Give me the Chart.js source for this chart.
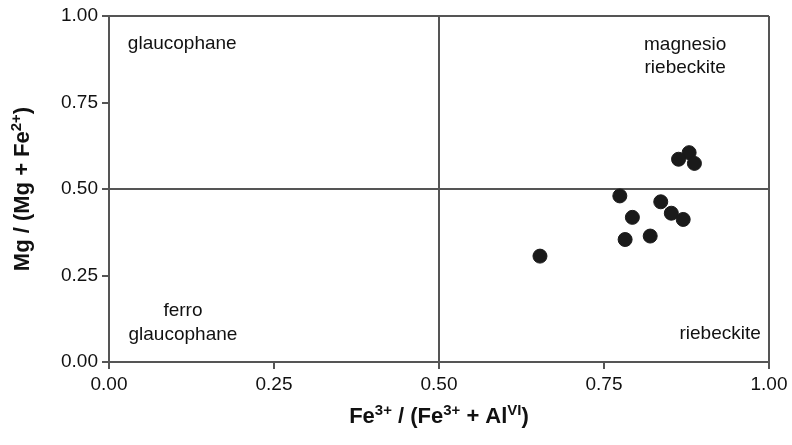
<!DOCTYPE html>
<html>
<head>
<meta charset="utf-8">
<script src="https://cdn.jsdelivr.net/npm/chart.js@4/dist/chart.umd.min.js"></script>
<style>
  html, body { margin: 0; padding: 0; background: #fff; }
  #wrap { width: 792px; height: 445px; }
</style>
</head>
<body>
<div id="wrap"><canvas id="amph-chart" width="792" height="445"></canvas></div>
<script>
// Data
var feRatio = [0.879, 0.863, 0.887, 0.774, 0.836, 0.793, 0.852, 0.870, 0.782, 0.820, 0.653];
var mgRatio = [0.605, 0.586, 0.574, 0.480, 0.463, 0.418, 0.430, 0.412, 0.354, 0.364, 0.306];
var tickValues = [0, 0.25, 0.5, 0.75, 1];

// Field names, placed in data units
var fieldNames = ["glaucophane", "magnesio", "riebeckite", "ferro", "glaucophane", "riebeckite"];
var fieldX = [0.111, 0.873, 0.873, 0.112, 0.112, 0.926];
var fieldY = [0.919, 0.916, 0.850, 0.148, 0.080, 0.081];

var FONT = "'Liberation Sans', Arial, sans-serif";
var LINE = "#555";

var points = feRatio.map(function (x, i) {
  return { x: x, y: mgRatio[i] };
});

// draws text with superscript parts, centred on (cx, cy)
function richText(ctx, parts, cx, cy, size, rotate) {
  ctx.save();
  ctx.translate(cx, cy);
  if (rotate) ctx.rotate(-Math.PI / 2);
  ctx.textBaseline = "alphabetic";
  ctx.textAlign = "left";
  var total = 0;
  parts.forEach(function (p) {
    ctx.font = "bold " + (p.sup ? size * 0.68 : size) + "px " + FONT;
    p.w = ctx.measureText(p.t).width;
    total += p.w;
  });
  var x = -total / 2;
  var base = size * 0.36;
  parts.forEach(function (p) {
    ctx.font = "bold " + (p.sup ? size * 0.68 : size) + "px " + FONT;
    ctx.fillStyle = "#111";
    ctx.fillText(p.t, x, p.sup ? base - size * 0.36 : base);
    x += p.w;
  });
  ctx.restore();
}

var labelsPlugin = {
  id: "labels",
  afterDraw: function (chart) {
    var ctx = chart.ctx;
    var xs = chart.scales.x, ys = chart.scales.y;
    ctx.save();
    ctx.font = "19px " + FONT;
    ctx.fillStyle = "#111";
    ctx.textAlign = "center";
    ctx.textBaseline = "middle";
    fieldNames.forEach(function (name, i) {
      ctx.fillText(name, xs.getPixelForValue(fieldX[i]), ys.getPixelForValue(fieldY[i]));
    });
    ctx.restore();

    richText(ctx, [
      { t: "Fe" }, { t: "3+", sup: true }, { t: " / (Fe" }, { t: "3+", sup: true },
      { t: " + Al" }, { t: "VI", sup: true }, { t: ")" }
    ], (chart.chartArea.left + chart.chartArea.right) / 2, 415, 22, false);

    richText(ctx, [
      { t: "Mg / (Mg + Fe" }, { t: "2+", sup: true }, { t: ")" }
    ], 21, (chart.chartArea.top + chart.chartArea.bottom) / 2, 22, true);
  }
};

function gridColor(c) {
  var v = c.tick ? c.tick.value : null;
  return (v === 0.5 || v === 1) ? LINE : "rgba(0,0,0,0)";
}

function axis(pos) {
  return {
    type: "linear",
    position: pos,
    min: 0,
    max: 1,
    afterBuildTicks: function (s) {
      s.ticks = tickValues.map(function (v) { return { value: v }; });
    },
    afterFit: function (s) {
      if (pos === "left") s.width = 109;
      else s.height = 83;
    },
    grid: {
      color: gridColor,
      lineWidth: 2,
      drawTicks: true,
      tickLength: 7,
      tickColor: LINE,
      tickWidth: 2
    },
    border: { display: true, color: LINE, width: 2 },
    ticks: {
      color: "#111",
      font: { family: FONT, size: 19 },
      padding: 4,
      callback: function (v) { return Number(v).toFixed(2); }
    }
  };
}

var ctx = document.getElementById("amph-chart").getContext("2d");
var chart = new Chart(ctx, {
  type: "scatter",
  data: {
    datasets: [{
      data: points,
      backgroundColor: "#1a1a1a",
      borderColor: "#1a1a1a",
      pointRadius: 7,
      pointHoverRadius: 7
    }]
  },
  options: {
    responsive: false,
    animation: false,
    devicePixelRatio: 1,
    layout: { padding: { top: 16, right: 23, left: 0, bottom: 0 } },
    plugins: { legend: { display: false }, tooltip: { enabled: false } },
    scales: { x: axis("bottom"), y: axis("left") }
  },
  plugins: [labelsPlugin]
});
</script>
</body>
</html>
